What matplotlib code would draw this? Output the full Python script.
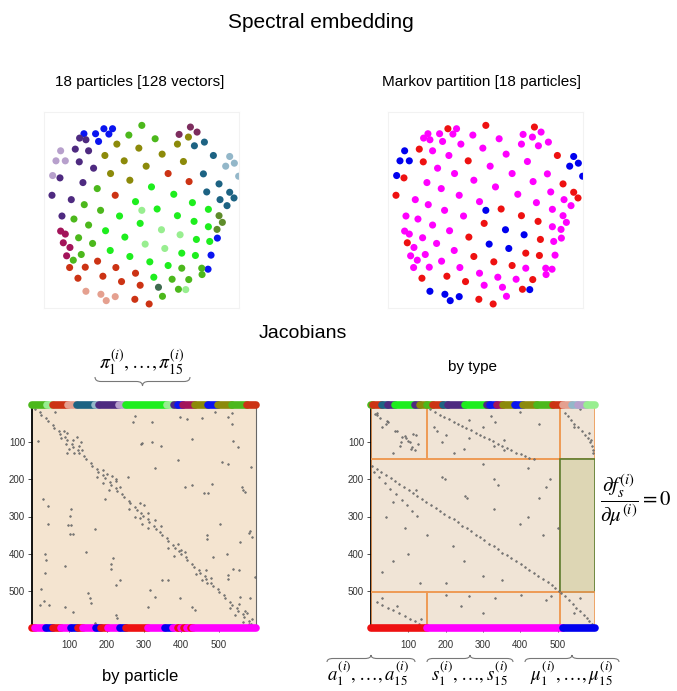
import numpy as np
import matplotlib.pyplot as plt
from matplotlib.path import Path
from matplotlib.patches import PathPatch, Rectangle

plt.rcParams['font.family'] = ['Liberation Sans', 'DejaVu Sans']
plt.rcParams['mathtext.fontset'] = 'stix'

# ---- spectral embedding: 2D coordinates, particle id and Markov partition ----
emb_x = [162, 197, 222, 248, 237, 206, 563, 544, 535,                    # blue
         149, 168, 136, 176, 148, 191, 90, 159, 66, 124, 96,              # purple
         92, 78, 106, 68,                                                 # lavender
         261, 327, 225, 283, 397, 349, 461, 242, 300, 443, 476,           # olive
         482, 502, 448,                                                   # plum
         494, 524, 551, 521, 568, 531, 600, 571, 613, 592,                # teal
         600, 588, 614, 627,                                              # lightblue
         568, 578, 562,                                                   # olivegreen
         336, 297, 376, 202, 163, 212, 132, 176, 146, 188, 154, 130,
         456, 516, 517, 427, 477, 446, 398,                               # green
         365, 432, 317, 488, 382, 536, 269, 443, 331, 493, 536,
         227, 285, 500, 540, 241, 456, 497, 300, 360, 415, 372,           # brightgreen
         336, 395, 451, 346, 405, 468,                                    # lightgreen
         415, 478, 256, 203, 166, 119, 258, 144, 219, 317, 275, 331, 315, 358,  # red
         92, 106, 100, 120, 110,                                          # crimson
         168, 213, 229, 256,                                              # salmon
         386]                                                             # darkgreen
emb_y = [102, 102, 87, 87, 103, 125, 414, 465, 507,
         115, 120, 148, 153, 186, 205, 234, 248, 286, 299, 348,
         153, 183, 183, 227,
         133, 145, 167, 183, 163, 199, 185, 221, 241, 133, 112,
         82, 97, 104,
         138, 127, 167, 222, 252, 276, 277, 299, 294, 317,
         170, 199, 190, 229,
         347, 367, 388,
         77, 106, 117, 266, 314, 331, 357, 375, 413, 430, 463, 480,
         504, 504, 523, 537, 538, 567, 588,
         261, 283, 305, 308, 327, 328, 348, 347, 370, 364, 380,
         392, 411, 418, 424, 451, 459, 466, 469, 485, 496, 531,
         331, 389, 404, 432, 445, 568,
         221, 245, 286, 483, 501, 502, 502, 534, 528, 519, 544, 555, 597, 611,
         393, 402, 428, 442, 467,
         573, 582, 601, 589,
         561]
emb_particle = (['blue'] * 9 + ['purple'] * 11 + ['lavender'] * 4 + ['olive'] * 11
                + ['plum'] * 3 + ['teal'] * 10 + ['lightblue'] * 4 + ['olivegreen'] * 3
                + ['green'] * 19 + ['brightgreen'] * 22 + ['lightgreen'] * 6
                + ['red'] * 14 + ['crimson'] * 5 + ['salmon'] * 4 + ['darkgreen'])
emb_partition = ('mmrmmmmmm' + 'mmrmrmrmrmm' + 'bbbb' + 'mmmrmmmmmmm' + 'rmm'
                 + 'mmrmrmrmrm' + 'bbbb' + 'mmm' + 'rmmmmmmmmmmmmmmmrrm'
                 + 'mmmmrmmrrrmmrrmmrrrrrm' + 'bbbbbb' + 'mmmmmmmrrmrmrr'
                 + 'mmrmm' + 'bbbb' + 'm')

particle_colors = {'blue': '#0a14f0', 'purple': '#4e2a80', 'lavender': '#b7a0cc',
                   'olive': '#8c8a0a', 'plum': '#7d2d5e', 'teal': '#1d6383',
                   'lightblue': '#93b7c9', 'olivegreen': '#5e8c2a', 'green': '#4cb81c',
                   'brightgreen': '#1eee1e', 'lightgreen': '#98ee90', 'red': '#cc3314',
                   'crimson': '#a3145a', 'salmon': '#e5a08f', 'darkgreen': '#3f6b4f'}
partition_colors = {'m': '#ff00ff', 'r': '#ee1111', 'b': '#0000ee'}

# ---- Jacobian sparsity patterns (row, col) ----
jl_diag = [(3, 4), (11, 9), (19, 21), (27, 25), (36, 38), (44, 42), (53, 55), (61, 59),
           (70, 72), (78, 76), (87, 89), (95, 93), (104, 106), (112, 110), (121, 123),
           (129, 127), (138, 140), (146, 144), (155, 157), (163, 161), (172, 174),
           (180, 178), (189, 191), (197, 195), (206, 208), (214, 212), (223, 225),
           (231, 229), (240, 242), (248, 246), (257, 259), (265, 263), (274, 276),
           (282, 280), (291, 293), (299, 297), (308, 310), (316, 314), (325, 327),
           (333, 331), (342, 344), (350, 348), (359, 361), (367, 365), (376, 378),
           (384, 382), (393, 395), (401, 399), (410, 412), (418, 416), (427, 429),
           (435, 433), (444, 446), (452, 450), (461, 463), (469, 467), (478, 480),
           (486, 484), (495, 497), (503, 501), (512, 514), (520, 518), (529, 531),
           (537, 535), (546, 548), (554, 552), (563, 565), (571, 569), (580, 582),
           (588, 586), (595, 596)]
jl_near = [(70, 85), (75, 95), (90, 78), (95, 110), (105, 90), (110, 125), (118, 100),
           (122, 135), (130, 112), (85, 120), (100, 130), (128, 95),
           (185, 200), (195, 175), (205, 225), (210, 190), (220, 235), (228, 205),
           (190, 215), (175, 190),
           (265, 290), (280, 260), (290, 310), (300, 275), (310, 330), (320, 295),
           (325, 345), (270, 300), (305, 290), (330, 310),
           (375, 390), (385, 365), (395, 410), (405, 380), (390, 400),
           (445, 465), (455, 440), (465, 480), (470, 455), (480, 470),
           (535, 555), (545, 530), (555, 570), (565, 545), (575, 590), (585, 565),
           (590, 580), (560, 575)]
jl_off = [(29, 275), (45, 271), (104, 292), (97, 16), (19, 62), (252, 29), (273, 43),
          (279, 105), (298, 102), (193, 257), (198, 225), (252, 196),
          (45, 321), (32, 397), (39, 415), (35, 455), (19, 491), (32, 526), (21, 535),
          (51, 535), (102, 294), (99, 321), (109, 345), (91, 429), (98, 538), (112, 552),
          (147, 392), (169, 330), (153, 508), (160, 526), (166, 586), (216, 428),
          (220, 410), (212, 482), (236, 472), (238, 460), (220, 562), (230, 566),
          (234, 570), (319, 43), (322, 97), (322, 105), (347, 102), (347, 110),
          (333, 168), (400, 34), (418, 38), (396, 145), (432, 88), (453, 34),
          (413, 217), (427, 212), (440, 212), (472, 235), (485, 225), (494, 24),
          (507, 150), (520, 155), (533, 158), (527, 32), (539, 21), (539, 45),
          (544, 88), (557, 110), (566, 225), (572, 228), (587, 168),
          (319, 504), (351, 468), (360, 470), (338, 584), (345, 580), (355, 588),
          (369, 558), (400, 522), (409, 485), (440, 539), (445, 555), (458, 526),
          (463, 598), (467, 526), (472, 348), (472, 365), (499, 316), (517, 330),
          (520, 397), (544, 428), (552, 437), (544, 310), (517, 558), (520, 584)]

jr_top = [(24, 11), (28, 15), (21, 15), (35, 25), (42, 42), (47, 46), (50, 40), (69, 69),
          (70, 64), (83, 91), (86, 82), (90, 95), (96, 99), (99, 104), (78, 113),
          (80, 120), (109, 78), (114, 109), (118, 107), (122, 118), (105, 125),
          (100, 80), (60, 30), (130, 60),
          (12, 158), (20, 172), (26, 184), (33, 195), (38, 208), (45, 221), (50, 232),
          (56, 244), (63, 255), (68, 268), (74, 281), (80, 292), (87, 303), (92, 316),
          (98, 328), (104, 341), (110, 352), (117, 363), (122, 376), (128, 388),
          (133, 401), (138, 412), (142, 424), (144, 436),
          (60, 170), (70, 176), (40, 262), (82, 200), (100, 190), (110, 330),
          (120, 356), (95, 356), (60, 300), (90, 262), (30, 322), (45, 333),
          (118, 250), (128, 222), (20, 400), (50, 450),
          (22, 520), (30, 527), (40, 535), (50, 545), (60, 555), (70, 565), (80, 572),
          (90, 580), (100, 587), (110, 592), (120, 595), (130, 594), (60, 545),
          (75, 585), (95, 590), (12, 560)]
jr_mid = [(165, 3), (172, 15), (181, 28), (188, 40), (196, 53), (205, 64), (212, 76),
          (221, 88), (228, 101), (236, 112), (245, 124), (252, 136), (261, 148),
          (268, 160), (276, 173), (285, 184), (292, 196), (301, 208), (308, 221),
          (316, 232), (325, 244), (332, 257), (340, 268), (349, 280), (356, 293),
          (364, 304), (373, 316), (380, 329), (388, 340), (397, 352), (404, 365),
          (412, 376), (421, 388), (428, 401), (436, 412), (445, 424), (452, 437),
          (460, 448), (469, 460), (476, 473), (484, 484), (493, 494), (500, 503),
          (180, 8), (195, 22), (210, 38), (225, 52), (240, 68), (255, 82), (270, 96),
          (285, 110), (298, 124),
          (193, 190), (200, 198), (244, 252), (250, 258), (200, 330), (215, 340),
          (230, 120), (260, 60), (300, 40), (330, 90), (350, 150), (400, 100),
          (420, 60), (450, 30), (380, 220), (280, 330), (300, 420), (320, 400),
          (350, 460), (250, 450), (200, 480), (220, 470), (420, 250), (460, 300),
          (470, 350), (480, 200), (160, 300), (170, 420), (330, 500), (480, 130)]
jr_bot = [(530, 15), (537, 30), (545, 45), (552, 60), (560, 75), (568, 90), (575, 105),
          (582, 118), (588, 128), (520, 30), (540, 70), (575, 135),
          (507, 510), (515, 520), (525, 530), (535, 540), (545, 550), (555, 560),
          (565, 570), (572, 578), (580, 585), (588, 592), (595, 598), (520, 560),
          (560, 545),
          (510, 200), (515, 262), (520, 332), (512, 402), (525, 470), (515, 482),
          (560, 300), (540, 240)]

# colour strips along the matrix edges
jl_top_color = ['green', 'lightgreen', 'red', 'salmon', 'teal', 'lightblue', 'purple',
                'lavender', 'brightgreen', 'lightgreen', 'purple', 'blue', 'crimson',
                'olive', 'blue', 'olive', 'green', 'red']
jl_top_edges = [0, 40, 56, 97, 121, 169, 180, 233, 252, 362, 381, 391, 405, 437, 472,
                499, 536, 576, 600]
jl_bot_color = ['r', 'm', 'b', 'r', 'm', 'b', 'r', 'm', 'b', 'r', 'm', 'b', 'r', 'm',
                'b', 'm', 'r', 'm', 'r', 'm', 'r', 'm']
jl_bot_edges = [0, 8, 38, 56, 78, 105, 123, 137, 172, 186, 204, 236, 252, 312, 357,
                378, 392, 398, 408, 416, 425, 430, 600]
jr_top_color = ['green', 'red', 'teal', 'purple', 'brightgreen', 'purple', 'olive',
                'green', 'red', 'teal', 'purple', 'brightgreen', 'purple', 'blue',
                'crimson', 'olive', 'blue', 'olive', 'green', 'red', 'salmon',
                'lightblue', 'lavender', 'lightgreen']
jr_top_edges = [0, 5, 30, 46, 64, 118, 131, 150, 166, 193, 206, 252, 311, 319, 338,
                354, 386, 408, 445, 488, 515, 539, 555, 579, 600]
jr_bot_color = ['r', 'm', 'b']
jr_bot_edges = [0, 150, 515, 600]

block_rows = [0, 146, 503, 600]
block_cols = [0, 150, 505, 600]
N = 600
ticks = [100, 200, 300, 400, 500]

W, H = 677, 691
fig = plt.figure(figsize=(W / 100, H / 100), dpi=100)


def fx(px):
    return px / W


def fy(py):
    return 1 - py / H


def brace(x0, x1, y_end, y_tip, r=6):
    xm = (x0 + x1) / 2
    ym = (y_end + y_tip) / 2
    pts = [(x0, y_end), (x0, ym), (x0 + r, ym), (xm - r, ym), (xm, ym), (xm, y_tip),
           (xm, ym), (xm + r, ym), (x1 - r, ym), (x1, ym), (x1, y_end)]
    codes = [Path.MOVETO, Path.CURVE3, Path.CURVE3, Path.LINETO, Path.CURVE3,
             Path.CURVE3, Path.CURVE3, Path.CURVE3, Path.LINETO, Path.CURVE3, Path.CURVE3]
    verts = [(fx(a), fy(b)) for a, b in pts]
    fig.patches.append(PathPatch(Path(verts, codes), transform=fig.transFigure,
                                 fc='none', ec='#777777', lw=0.8))


# titles
fig.text(fx(321), fy(22), 'Spectral embedding', ha='center', va='center', fontsize=15)
fig.text(fx(140), fy(82), '18 particles [128 vectors]', ha='center', va='center', fontsize=11)
fig.text(fx(482), fy(82), 'Markov partition [18 particles]', ha='center', va='center', fontsize=11)
fig.text(fx(303), fy(333), 'Jacobians', ha='center', va='center', fontsize=14)
fig.text(fx(472), fy(367), 'by type', ha='center', va='center', fontsize=11)
fig.text(fx(140), fy(676), 'by particle', ha='center', va='center', fontsize=12)

# embedding scatter panels
for left, cols in [(44, [particle_colors[p] for p in emb_particle]),
                   (388, [partition_colors[p] for p in emb_partition])]:
    ax = fig.add_axes([fx(left), fy(308), 195 / W, 196 / H])
    ax.scatter(emb_x, emb_y, s=26, c=cols, edgecolors='none')
    ax.set_xlim(42, 628)
    ax.set_ylim(623, 37)
    ax.set_xticks([])
    ax.set_yticks([])
    for sp in ax.spines.values():
        sp.set_color('#f2f2f2')


def draw_strip(ax, edges, names, palette, y):
    for i, name in enumerate(names):
        ax.plot([edges[i], edges[i + 1]], [y, y], color=palette[name], lw=5.5,
                solid_capstyle='round', clip_on=False, zorder=6)


def matrix_axes(left, bg):
    ax = fig.add_axes([fx(left), fy(628), 224 / W, 223 / H])
    ax.set_xlim(0, N)
    ax.set_ylim(N, 0)
    ax.set_facecolor(bg)
    ax.set_xticks(ticks)
    ax.set_yticks(ticks)
    ax.tick_params(labelsize=7, colors='#333333', length=3, width=0.6, pad=2)
    ax.tick_params(axis='x', pad=6)
    ax.spines['top'].set_visible(False)
    ax.spines['bottom'].set_visible(False)
    ax.spines['left'].set_linewidth(1.3)
    ax.spines['right'].set_color('#666666')
    return ax


def draw_entries(ax, entries):
    r, c = zip(*entries)
    ax.plot(c, r, 'o', ms=1.3, mfc='#777777', mec='#555555', mew=0.3, zorder=4)


# Jacobian by particle
axl = matrix_axes(32, '#f4e4d0')
draw_entries(axl, jl_diag + jl_near + jl_off)
draw_strip(axl, jl_top_edges, jl_top_color, particle_colors, 0)
draw_strip(axl, jl_bot_edges, jl_bot_color, partition_colors, N)

# Jacobian by type
axr = matrix_axes(371, '#f0e4d6')
axr.spines['right'].set_visible(False)
orange = '#ee9a55'
for bi in range(3):
    r0, r1 = block_rows[bi], block_rows[bi + 1]
    if bi == 1:
        axr.add_patch(Rectangle((block_cols[0], r0), block_cols[2] - block_cols[0], r1 - r0,
                                fc='none', ec=orange, lw=1.2, zorder=3))
        axr.add_patch(Rectangle((block_cols[2], r0), block_cols[3] - block_cols[2], r1 - r0,
                                fc='#ddd6b4', ec='#5d7d2e', lw=1.2, zorder=3))
    else:
        for bj in range(3):
            c0, c1 = block_cols[bj], block_cols[bj + 1]
            axr.add_patch(Rectangle((c0, r0), c1 - c0, r1 - r0, fc='none', ec=orange,
                                    lw=1.2, zorder=3))
draw_entries(axr, jr_top + jr_mid + jr_bot)
draw_strip(axr, jr_top_edges, jr_top_color, particle_colors, 0)
draw_strip(axr, jr_bot_edges, jr_bot_color, partition_colors, N)

# braces and variable labels
brace(95, 190, 377, 386)
fig.text(fx(142), fy(362), r'$\pi_1^{(i)},\ldots,\pi_{15}^{(i)}$', ha='center', va='center',
         fontsize=14)
brace(327, 415, 662, 655)
brace(427, 513, 662, 655)
brace(525, 619, 662, 655)
fig.text(fx(368), fy(674), r'$a_1^{(i)},\ldots,a_{15}^{(i)}$', ha='center', va='center', fontsize=13.5)
fig.text(fx(470), fy(674), r'$s_1^{(i)},\ldots,s_{15}^{(i)}$', ha='center', va='center', fontsize=13.5)
fig.text(fx(572), fy(674), r'$\mu_1^{(i)},\ldots,\mu_{15}^{(i)}$', ha='center', va='center', fontsize=13.5)
fig.text(fx(600), fy(500), r'$\dfrac{\partial f_s^{(i)}}{\partial \mu^{(i)}}=0$', ha='left',
         va='center', fontsize=15)

plt.savefig('out.png', dpi=100)
